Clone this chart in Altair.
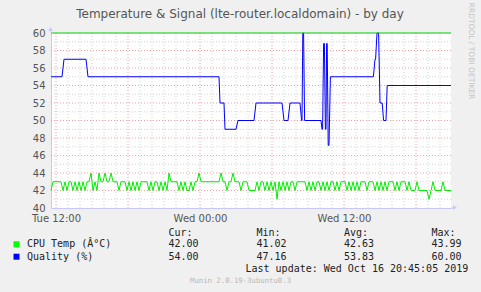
import altair as alt
import pandas as pd

# ---------------- data (time in minutes relative to Tue 12:00) ----------------
quality_t = [-25, 30, 40, 150, 160, 815, 820, 840, 845, 900, 910, 990, 1000, 1130, 1140,
             1160, 1170, 1220, 1228, 1230, 1234, 1238, 1243, 1325, 1330, 1333, 1338, 1342,
             1347, 1350, 1353, 1356, 1361, 1365, 1372, 1587, 1595, 1598, 1605, 1613, 1620,
             1631, 1638, 1650, 1656, 1975]
quality_v = [55, 55, 57, 57, 55, 55, 52, 52, 49, 49, 50, 50, 52, 52, 50,
             50, 52, 52, 50, 50, 60, 60, 50, 50, 49, 49, 58.8, 58.8,
             49, 49, 58.8, 58.8, 47.16, 47.16, 55, 55, 57, 57, 60, 60, 52,
             52, 50, 50, 54, 54]

cpu_start = -25
cpu_step = 10
cpu_v = [42, 43, 43, 43, 43, 43,
         42, 43, 42, 43, 43, 42, 43, 42, 43, 42,
         43, 42, 43, 43, 44, 42, 43, 42, 44,
         43, 43, 44, 43, 43, 44, 43, 43,
         43, 42, 43, 43, 43,
         42, 43, 42, 43, 42, 43, 42,
         43, 43, 43, 43,
         42, 43, 42, 43, 43, 42, 43, 42, 43, 42,
         44, 43, 43, 43, 43,
         42, 43, 42, 43, 42, 42, 43, 42, 43, 43,
         44, 43, 43, 43, 43, 43, 43, 43, 43, 43, 43,
         44, 43, 43, 42, 43, 43, 44, 43, 43, 43, 42, 43, 43, 43, 42,
         42, 42, 42, 43,
         42, 43, 43, 42, 43, 42, 43, 42, 43, 41,
         43, 42, 43, 42, 43, 42, 43, 43, 42, 43,
         43, 43, 43, 43,
         42, 43, 42, 43, 42, 43, 43, 42, 43, 42, 43, 42,
         43, 43, 42, 43, 42, 43, 43, 43, 42, 43,
         42, 43, 42, 43, 42, 43, 43, 43, 42, 43,
         43, 43, 42, 43, 42, 43, 42, 43, 42, 43,
         43, 43, 42, 43, 42, 43, 43, 43, 42, 43,
         42, 42, 42, 43, 42, 42, 42, 42, 42, 41, 42, 43, 42, 42, 42, 42, 43, 42, 42, 42, 42]
cpu_t = [cpu_start + cpu_step * i for i in range(len(cpu_v))]

x_label_pos = [0, 720, 1440]
x_labels = ["Tue 12:00", "Wed 00:00", "Wed 12:00"]
major_x = [0, 360, 720, 1080, 1440, 1800]
minor_x = [h * 60 for h in range(1, 33) if (h * 60) % 360 != 0]
major_y = [42, 44, 46, 48, 50, 52, 54, 56, 58]
minor_y = [41, 43, 45, 47, 49, 51, 53, 55, 57, 59]
y_labels = [40, 42, 44, 46, 48, 50, 52, 54, 56, 58, 60]
top_line = [60]

title_text = "Temperature & Signal (lte-router.localdomain) - by day"
side_text = "RRDTOOL / TOBI OETIKER"
col_headers = ["Cur:", "Min:", "Avg:", "Max:"]
series_names = ["CPU Temp (Â°C)", "Quality (%)"]
cur_vals = ["42.00", "54.00"]
min_vals = ["41.02", "47.16"]
avg_vals = ["42.63", "53.83"]
max_vals = ["43.99", "60.00"]
last_update = "Last update: Wed Oct 16 20:45:05 2019"
version_text = "Munin 2.0.19-3ubuntu0.3"

# ---------------- chart ----------------
W, H = 400, 175
L, T = 51, 33
AXIS_COL = "#c8c8f8"
xs = alt.Scale(domain=[-25, 1975], nice=False, zero=False)
ys = alt.Scale(domain=[40, 60], nice=False, zero=False)

label_expr = " : ".join(
    f"datum.value == {p} ? '{s}'" for p, s in zip(x_label_pos[:-1], x_labels[:-1])
) + f" : '{x_labels[-1]}'"

x_axis = alt.Axis(
    values=x_label_pos, labelExpr=label_expr, title=None, grid=False, ticks=False,
    domainColor=AXIS_COL, domainWidth=1, labelFont="DejaVu Sans", labelFontSize=10,
    labelColor="#555555", labelPadding=5, labelFlush=False)
y_axis = alt.Axis(
    values=y_labels, format="d", title=None, grid=False, ticks=False,
    domainColor=AXIS_COL, domainWidth=1, labelFont="DejaVu Sans", labelFontSize=10,
    labelColor="#555555", labelPadding=6, labelFlush=False)

X = alt.X("t:Q", scale=xs, axis=x_axis)
Y = alt.Y("v:Q", scale=ys, axis=y_axis)

cpu_df = pd.DataFrame({"t": cpu_t, "v": cpu_v})
q_df = pd.DataFrame({"t": quality_t, "v": quality_v})

minor_vx = alt.Chart(pd.DataFrame({"t": minor_x})).mark_rule(
    color="#d4d4d4", strokeDash=[1, 2], strokeWidth=1).encode(x=X)
major_vx = alt.Chart(pd.DataFrame({"t": major_x})).mark_rule(
    color="#f0a0a0", strokeDash=[1, 2], strokeWidth=1).encode(x=X)
minor_hy = alt.Chart(pd.DataFrame({"v": minor_y})).mark_rule(
    color="#d4d4d4", strokeDash=[1, 2], strokeWidth=1).encode(y=Y)
major_hy = alt.Chart(pd.DataFrame({"v": major_y})).mark_rule(
    color="#f0a0a0", strokeDash=[1, 2], strokeWidth=1).encode(y=Y)

cpu_line = alt.Chart(cpu_df).mark_line(color="#00ee00", strokeWidth=1).encode(x=X, y=Y)
q_line = alt.Chart(q_df).mark_line(color="#0000ff", strokeWidth=1).encode(x=X, y=Y)
top_rule = alt.Chart(pd.DataFrame({"v": top_line})).mark_rule(
    color="#00cc00", strokeWidth=1).encode(y=Y)

one = alt.Data(values=[{}])

y_ext = alt.Chart(one).mark_rule(color=AXIS_COL).encode(
    x=alt.value(0), y=alt.value(-4), y2=alt.value(0))
y_arrow = alt.Chart(one).mark_point(shape="triangle-up", filled=True, size=22, color=AXIS_COL, opacity=1).encode(
    x=alt.value(-0.5), y=alt.value(-4))
x_ext = alt.Chart(one).mark_rule(color=AXIS_COL).encode(
    x=alt.value(W), x2=alt.value(W + 4), y=alt.value(H))
x_arrow = alt.Chart(one).mark_point(shape="triangle-right", filled=True, size=22, color=AXIS_COL, opacity=1).encode(
    x=alt.value(W + 4), y=alt.value(H - 0.5))


def txt(s, x, y, size=10, color="#222222", font="DejaVu Sans Mono", align="left", angle=None):
    props = dict(text=s, font=font, fontSize=size, color=color, align=align, baseline="middle")
    if angle is not None:
        props["angle"] = angle
    return alt.Chart(one).mark_text(**props).encode(x=alt.value(x - L), y=alt.value(y - T))


def sq(color, x, y):
    return alt.Chart(one).mark_square(size=36, filled=True, color=color, opacity=1).encode(
        x=alt.value(x - L), y=alt.value(y - T))


texts = [
    txt(title_text, 240, 14, size=12, color="#555555", font="DejaVu Sans", align="center"),
    txt(side_text, 471, 51, size=7.5, color="#c4c4c4", font="DejaVu Sans", align="center", angle=90),
]
col_x = [168.5, 256.5, 344, 431.5]
for hx, h in zip(col_x, col_headers):
    texts.append(txt(h, hx, 233))
row_y = [244, 256.5]
for i, name in enumerate(series_names):
    texts.append(txt(name, 27, row_y[i]))
    for hx, vals in zip(col_x, [cur_vals, min_vals, avg_vals, max_vals]):
        texts.append(txt(vals[i], hx, row_y[i]))
texts.append(txt(last_update, 245.5, 269))
texts.append(txt(version_text, 240.5, 281, size=7.3, color="#b8b8b8", align="center"))

squares = [sq("#00ff00", 16.5, 244.3), sq("#0000ff", 16.5, 256.7)]

chart = alt.layer(
    minor_vx, minor_hy, major_vx, major_hy, cpu_line, q_line, top_rule,
    y_ext, y_arrow, x_ext, x_arrow, *texts, *squares
).properties(
    width=W, height=H,
    autosize=alt.AutoSizeParams(type="none"),
    padding={"left": L, "top": T, "right": 481 - L - W, "bottom": 292 - T - H},
    background="#f0f0f0",
).configure_view(fill="white", strokeWidth=0)

chart.save("out.html", embed_options={"renderer": "svg", "actions": False})
